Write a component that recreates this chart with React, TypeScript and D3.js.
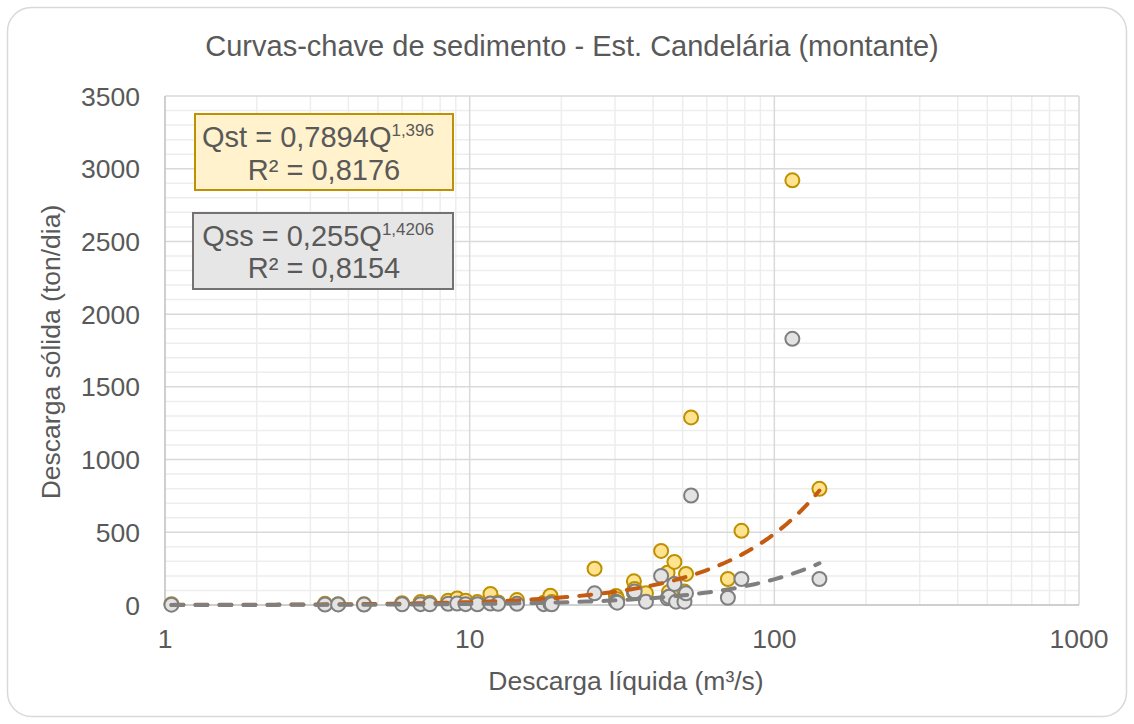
import React from 'react';
import * as d3 from 'd3';

// Descarga líquida (m³/s) for each campaign
const qLiquida = [
  1.05, 3.35, 3.7, 4.5, 6.0, 6.9, 7.4, 8.5, 9.1, 9.7, 10.6, 11.7, 12.4, 14.3, 17.5, 18.4, 18.6,
  25.7, 30.2, 30.5, 34.6, 34.8, 37.9, 42.5, 44.6, 45.1, 47.0, 47.6, 50.7, 51.3, 53.3, 70.4, 78.0,
  114.6, 140.6,
];
// Descarga sólida total (Qst), ton/dia
const qstValues = [
  6, 8, 6, 5, 12, 20, 15, 30, 45, 30, 20, 76, 18, 34, 15, 64, 20,
  250, 62, 40, 163, 110, 80, 372, 222, 90, 296, 60, 92, 214, 1290, 179, 510,
  2920, 799,
];
// Descarga sólida em suspensão (Qss), ton/dia
const qssValues = [
  2, 3, 4, 3, 5, 6, 5, 8, 10, 6, 5, 10, 8, 8, 6, 8, 5,
  80, 23, 16, 85, 92, 23, 200, 46, 57, 145, 23, 23, 80, 753, 50, 179,
  1830, 179,
];

const xTicks = [1, 10, 100, 1000];
const yTicks = [0, 500, 1000, 1500, 2000, 2500, 3000, 3500];

// power-law fits shown in the boxes
const qstFit = { a: 0.7894, b: 1.396 };
const qssFit = { a: 0.255, b: 1.4206 };

const W = 1134;
const H = 724;
const FONT = '"Liberation Sans", Arial, sans-serif';
const TXT = '#595959';

export default function App() {
  const x = d3.scaleLog().domain([1, 1000]).range([165, 1079]);
  const y = d3.scaleLinear().domain([0, 3500]).range([605, 96]);

  const minorX: number[] = [];
  [1, 10, 100].forEach((d) => {
    for (let k = 2; k <= 9; k++) minorX.push(d * k);
  });
  const minorY = d3.range(100, 3500, 100).filter((v) => v % 500 !== 0);

  const qMin = d3.min(qLiquida) as number;
  const qMax = d3.max(qLiquida) as number;
  const fitQ = d3.range(0, 101).map((i) => Math.pow(10, Math.log10(qMin) + (i / 100) * (Math.log10(qMax) - Math.log10(qMin))));
  const line = d3
    .line<number[]>()
    .x((d) => x(d[0]))
    .y((d) => y(d[1]));
  const qstPath = line(fitQ.map((q) => [q, qstFit.a * Math.pow(q, qstFit.b)])) || '';
  const qssPath = line(fitQ.map((q) => [q, qssFit.a * Math.pow(q, qssFit.b)])) || '';

  const [x0, x1] = x.range();
  const [y0, y1] = y.range();

  return (
    <svg width={W} height={H} style={{ position: 'absolute', left: 0, top: 0, background: '#fff' }} fontFamily={FONT}>
      <rect x={7.5} y={7.5} width={W - 15} height={H - 15} rx={24} fill="#fff" stroke="#D9D9D9" strokeWidth={1.5} />

      <text x={572} y={56} textAnchor="middle" fontSize={29} fill={TXT}>
        Curvas-chave de sedimento - Est. Candelária (montante)
      </text>

      {/* grid */}
      {minorY.map((v) => (
        <line key={'my' + v} x1={x0} x2={x1} y1={y(v)} y2={y(v)} stroke="#EDEDED" strokeWidth={1.5} />
      ))}
      {minorX.map((v) => (
        <line key={'mx' + v} x1={x(v)} x2={x(v)} y1={y0} y2={y1} stroke="#EDEDED" strokeWidth={1.5} />
      ))}
      {yTicks.slice(1).map((v) => (
        <line key={'gy' + v} x1={x0} x2={x1} y1={y(v)} y2={y(v)} stroke="#D9D9D9" strokeWidth={1.5} />
      ))}
      {xTicks.slice(1).map((v) => (
        <line key={'gx' + v} x1={x(v)} x2={x(v)} y1={y0} y2={y1} stroke="#D9D9D9" strokeWidth={1.5} />
      ))}
      <line x1={x0} x2={x0} y1={y0} y2={y1} stroke="#BFBFBF" strokeWidth={1.5} />
      <line x1={x0} x2={x1} y1={y0} y2={y0} stroke="#BFBFBF" strokeWidth={1.5} />

      {/* tick labels */}
      {yTicks.map((v) => (
        <text key={'ty' + v} x={140} y={y(v) + 9.5} textAnchor="end" fontSize={26.5} fill={TXT}>
          {v}
        </text>
      ))}
      {xTicks.map((v) => (
        <text key={'tx' + v} x={x(v)} y={648} textAnchor="middle" fontSize={26.5} fill={TXT}>
          {v}
        </text>
      ))}

      <text x={626} y={690} textAnchor="middle" fontSize={26.5} fill={TXT}>
        Descarga líquida (m³/s)
      </text>
      <text transform="translate(60,352) rotate(-90)" textAnchor="middle" fontSize={26.5} fill={TXT}>
        Descarga sólida (ton/dia)
      </text>

      {/* points */}
      {qLiquida.map((q, i) => (
        <circle key={'st' + i} cx={x(q)} cy={y(qstValues[i])} r={7} fill="#FFE38F" stroke="#BF9000" strokeWidth={2} />
      ))}
      {qLiquida.map((q, i) => (
        <circle key={'ss' + i} cx={x(q)} cy={y(qssValues[i])} r={7} fill="#E3E3E3" stroke="#7F7F7F" strokeWidth={2} />
      ))}

      {/* trend lines */}
      <path d={qstPath} fill="none" stroke="#C55A11" strokeWidth={4} strokeDasharray="12,12" strokeLinecap="round" />
      <path d={qssPath} fill="none" stroke="#7F7F7F" strokeWidth={4} strokeDasharray="12,12" strokeLinecap="round" />

      {/* equation boxes */}
      <rect x={195} y={114} width={258} height={76} fill="#FFF2CC" stroke="#BF9000" strokeWidth={2} />
      <text x={318} y={147} textAnchor="middle" fontSize={29} fill={TXT}>
        Qst = 0,7894Q
        <tspan dy={-11} fontSize={17}>1,396</tspan>
      </text>
      <text x={324} y={180} textAnchor="middle" fontSize={29} fill={TXT}>
        R² = 0,8176
      </text>

      <rect x={193} y={213} width={260} height={76} fill="#E7E6E6" stroke="#767171" strokeWidth={2} />
      <text x={318} y={246} textAnchor="middle" fontSize={29} fill={TXT}>
        Qss = 0,255Q
        <tspan dy={-11} fontSize={17}>1,4206</tspan>
      </text>
      <text x={324} y={278} textAnchor="middle" fontSize={29} fill={TXT}>
        R² = 0,8154
      </text>
    </svg>
  );
}
